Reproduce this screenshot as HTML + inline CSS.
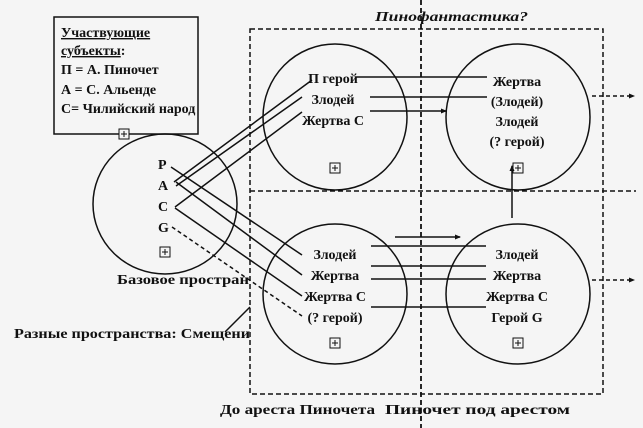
<!DOCTYPE html>
<html><head><meta charset="utf-8"><style>
html,body{margin:0;padding:0;background:#f5f5f5;}
svg{display:block;}
text{font-family:"Liberation Serif","Noto Serif CJK SC",serif;font-weight:bold;font-size:14px;fill:#111;}
</style></head><body>
<svg width="643" height="428" viewBox="0 0 643 428" xmlns="http://www.w3.org/2000/svg">
<defs><marker id="ah" markerWidth="6" markerHeight="5" refX="5" refY="2.5" orient="auto" markerUnits="userSpaceOnUse"><path d="M0,0 L6,2.5 L0,5 z" fill="#111"/></marker></defs>
<g fill="none" stroke="#111" stroke-width="1.5">
<rect x="250" y="29" width="353" height="365" stroke-dasharray="5,3"/>
<line x1="250" y1="191" x2="636" y2="191" stroke-dasharray="5,3"/>
<line x1="421" y1="0" x2="421" y2="428" stroke-dasharray="5,3" stroke-width="1.8"/>
<rect x="54" y="17" width="144" height="117" fill="#f5f5f5"/>
<ellipse cx="165" cy="204" rx="72" ry="70"/>
<ellipse cx="335" cy="117" rx="72" ry="73"/>
<ellipse cx="518" cy="117" rx="72" ry="73"/>
<ellipse cx="335" cy="294" rx="72" ry="70"/>
<ellipse cx="518" cy="294" rx="72" ry="70"/>
<line x1="355" y1="77" x2="487" y2="77"/>
<line x1="370" y1="97" x2="487" y2="97"/>
<line x1="370" y1="111" x2="407" y2="111"/>
<line x1="407" y1="111" x2="446" y2="111" marker-end="url(#ah)"/>
<line x1="512" y1="218" x2="512" y2="166" marker-end="url(#ah)"/>
<line x1="592" y1="96" x2="634" y2="96" stroke-dasharray="4,3" marker-end="url(#ah)"/>
<line x1="592" y1="280" x2="634" y2="280" stroke-dasharray="4,3" marker-end="url(#ah)"/>
<line x1="395" y1="237" x2="460" y2="237" marker-end="url(#ah)"/>
<line x1="371" y1="246" x2="486" y2="246"/>
<line x1="371" y1="266" x2="486" y2="266"/>
<line x1="371" y1="279" x2="486" y2="279"/>
<line x1="371" y1="307" x2="486" y2="307"/>
<line x1="174" y1="182" x2="312" y2="80"/>
<line x1="176" y1="186" x2="302" y2="97"/>
<line x1="175" y1="207" x2="302" y2="112"/>
<line x1="171" y1="167" x2="302" y2="255"/>
<line x1="176" y1="182" x2="302" y2="275"/>
<line x1="175" y1="208" x2="302" y2="296"/>
<line x1="172" y1="227" x2="302" y2="316" stroke-dasharray="4,3"/>
<line x1="225" y1="332" x2="250" y2="307"/>
<g stroke-width="1">
<rect x="119" y="129" width="10" height="10" fill="#f5f5f5"/><path d="M124,131v6M121,134h6"/>
<rect x="160" y="247" width="10" height="10"/><path d="M165,249v6M162,252h6"/>
<rect x="330" y="163" width="10" height="10"/><path d="M335,165v6M332,168h6"/>
<rect x="513" y="163" width="10" height="10"/><path d="M518,165v6M515,168h6"/>
<rect x="330" y="338" width="10" height="10"/><path d="M335,340v6M332,343h6"/>
<rect x="513" y="338" width="10" height="10"/><path d="M518,340v6M515,343h6"/>
</g>
</g>
<g font-size="13.5">
<text x="61" y="37" text-decoration="underline">Участвующие</text>
<text x="61" y="55"><tspan text-decoration="underline">субъекты</tspan>:</text>
<text x="61" y="74">П = А. Пиночет</text>
<text x="61" y="94">А = С. Альенде</text>
<text x="61" y="113">С= Чилийский народ</text>
</g>
<text x="375" y="21" font-style="italic" font-size="17" textLength="153" lengthAdjust="spacingAndGlyphs">Пинофантастика?</text>
<g text-anchor="middle">
<text x="333" y="83">П герой</text>
<text x="333" y="104">Злодей</text>
<text x="333" y="125">Жертва С</text>
<text x="517" y="86">Жертва</text>
<text x="517" y="106">(Злодей)</text>
<text x="517" y="126">Злодей</text>
<text x="517" y="146">(? герой)</text>
<text x="335" y="259">Злодей</text>
<text x="335" y="280">Жертва</text>
<text x="335" y="301">Жертва С</text>
<text x="335" y="322">(? герой)</text>
<text x="517" y="259">Злодей</text>
<text x="517" y="280">Жертва</text>
<text x="517" y="301">Жертва С</text>
<text x="517" y="322">Герой G</text>
</g>
<text x="158" y="169">P</text>
<text x="158" y="190">A</text>
<text x="158" y="211">C</text>
<text x="158" y="232">G</text>
<text x="117" y="284" font-size="16" textLength="132" lengthAdjust="spacingAndGlyphs">Базовое простран</text>
<text x="14" y="338" font-size="16" textLength="236" lengthAdjust="spacingAndGlyphs">Разные пространства: Смещени</text>
<text x="220" y="414" font-size="17" textLength="155" lengthAdjust="spacingAndGlyphs">До ареста Пиночета</text>
<text x="385" y="414" font-size="17" textLength="185" lengthAdjust="spacingAndGlyphs">Пиночет под арестом</text>
</svg>
</body></html>
